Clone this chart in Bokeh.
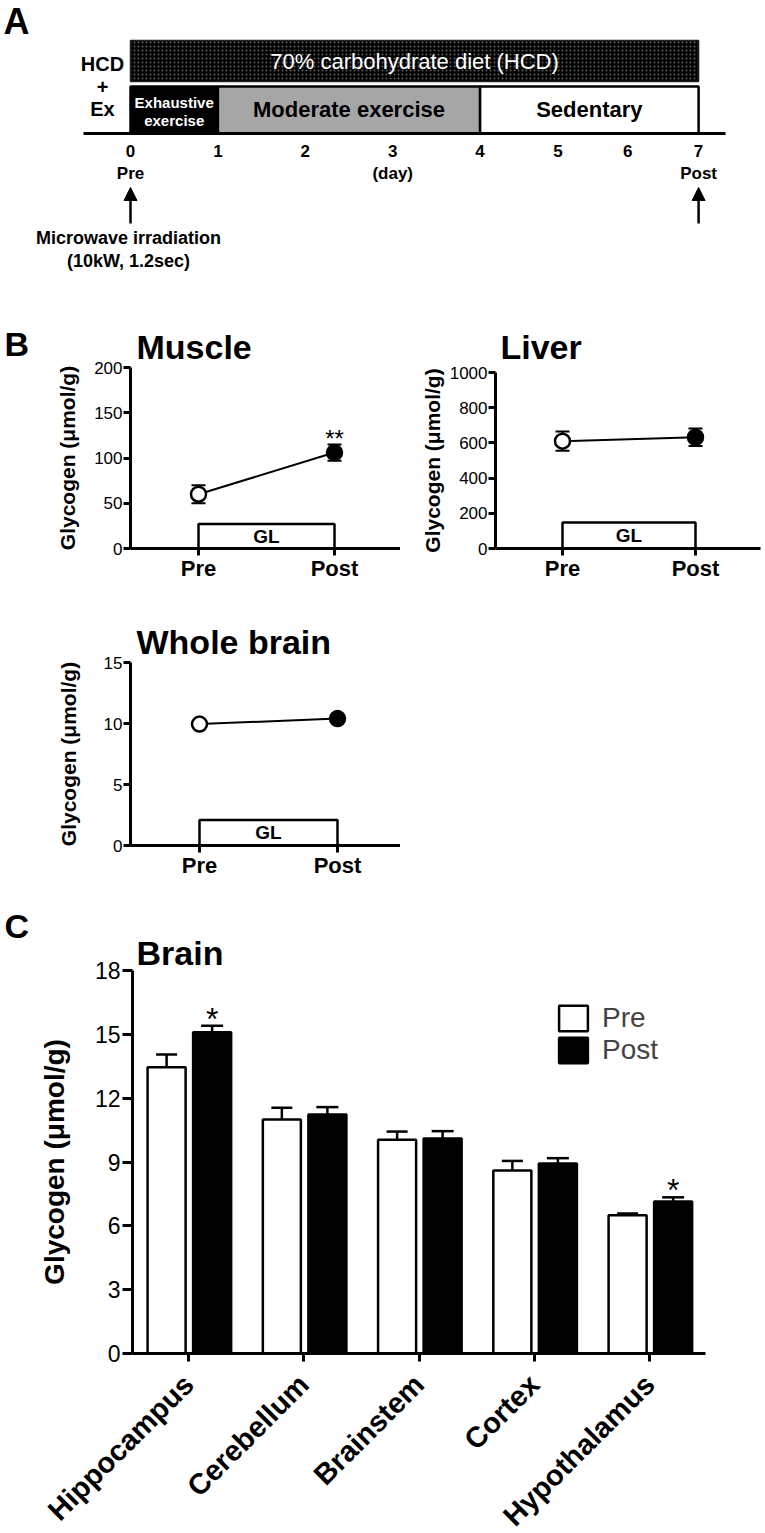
import math
from bokeh.plotting import figure
from bokeh.models import (Range1d, FixedTicker, Whisker, TeeHead, ColumnDataSource,
                          Legend, LegendItem, Arrow, NormalHead, Spacer)
from bokeh.layouts import column, row
from bokeh.embed import file_html
from bokeh.resources import INLINE
from bokeh.core.properties import value

FONT = "Liberation Sans"

# ------------------------------------------------------------------ data
# Panel A: protocol timeline
day_labels = ["0", "1", "2", "3", "4", "5", "6", "7"]
day_pos = [0, 1, 2, 3, 4, 4.89, 5.69, 6.5]          # drawn day positions (days 4-7 compressed)
phase_names = ["Exhaustive exercise", "Moderate exercise", "Sedentary"]
phase_start_day = [0, 1, 4]
phase_end_day = [1, 4, 7]
phase_colors = ["black", "#a6a6a6", "white"]
phase_text_colors = ["white", "black", "black"]
diet_label = "70% carbohydrate diet (HCD)"
diet_start_day, diet_end_day = 0, 7
sampling_days = [0, 7]
sampling_labels = ["Pre", "Post"]

# Panel B: tissue glycogen (µmol/g), mean and SEM at Pre / Post
timepoints = ["Pre", "Post"]
muscle_mean = [60, 106]
muscle_sem = [10, 9]
muscle_sig = ["", "**"]
liver_mean = [610, 632]
liver_sem = [55, 50]
liver_sig = ["", ""]
wb_mean = [9.95, 10.4]
wb_sem = [0.25, 0.25]
wb_sig = ["", ""]
gl_box_top = {"Muscle": 27, "Liver": 148, "Whole brain": 2.1}

# Panel C: regional brain glycogen (µmol/g)
regions = ["Hippocampus", "Cerebellum", "Brainstem", "Cortex", "Hypothalamus"]
brain_pre = [13.45, 11.0, 10.05, 8.6, 6.5]
brain_pre_sem = [0.6, 0.55, 0.38, 0.45, 0.08]
brain_post = [15.1, 11.23, 10.1, 8.93, 7.14]
brain_post_sem = [0.3, 0.35, 0.35, 0.25, 0.2]
brain_sig = ["*", "", "", "", "*"]


# ------------------------------------------------------------------ helpers
def make_panel(box, xa, ya, **kw):
    """box = (left, top, right, bottom) in page px; xa / ya = two (data, px) anchors."""
    fl, ft, fr, fb = box
    (dx0, px0), (dx1, px1) = xa
    kx = (px1 - px0) / (dx1 - dx0)
    (dy0, py0), (dy1, py1) = ya
    ky = (py0 - py1) / (dy1 - dy0)

    def X(px):
        return dx0 + (px - px0) / kx

    def Y(py):
        return dy0 + (py0 - py) / ky

    p = figure(width=fr - fl, height=fb - ft, x_range=Range1d(X(fl), X(fr)),
               y_range=Range1d(Y(fb), Y(ft)), output_backend="svg",
               toolbar_location=None, title=None, min_border=0, **kw)
    p.outline_line_color = None
    p.grid.visible = False
    return p, X, Y


def style_axis(ax, lw, tick_out, label_size, label_bold, label_standoff):
    ax.axis_line_width = lw
    ax.axis_line_color = "black"
    ax.major_tick_line_width = lw
    ax.major_tick_line_color = "black"
    ax.major_tick_in = 0
    ax.major_tick_out = tick_out
    ax.minor_tick_line_color = None
    ax.major_label_text_font = FONT
    ax.major_label_text_font_size = label_size
    ax.major_label_text_font_style = "bold" if label_bold else "normal"
    ax.major_label_text_color = "black"
    ax.major_label_standoff = label_standoff
    ax.axis_label_text_font = FONT
    ax.axis_label_text_font_style = "bold"
    ax.axis_label_text_color = "black"


def txt(p, x, y, s, size, bold=True, color="black", align="center", baseline="middle"):
    p.text(x=[x], y=[y], text=[s], text_font=value(FONT), text_font_size=size,
           text_font_style="bold" if bold else "normal", text_color=color,
           text_align=align, text_baseline=baseline)


# ------------------------------------------------------------------ panel A
pa, XA, YA = make_panel((0, 0, 765, 300), ((0, 130), (1, 217.4)), ((0, 300), (300, 0)),
                        x_axis_location=None, y_axis_location=None)

pa.quad(left=[day_pos[diet_start_day]], right=[day_pos[diet_end_day]],
        top=[YA(40)], bottom=[YA(81)], fill_color="black", line_color="#222222",
        line_width=1.5, hatch_pattern="dot", hatch_color="#5e5e5e", hatch_scale=4,
        hatch_weight=1)
txt(pa, (day_pos[diet_start_day] + day_pos[diet_end_day]) / 2, YA(61), diet_label,
    "22px", bold=False, color="white")

ph_left = [day_pos[s] for s in phase_start_day]
ph_right = [day_pos[e] for e in phase_end_day]
pa.quad(left=ph_left, right=ph_right, top=YA(86), bottom=YA(133),
        fill_color=phase_colors, line_color="black", line_width=2.5)
for i, name in enumerate(phase_names):
    cx = (ph_left[i] + ph_right[i]) / 2
    if ph_right[i] - ph_left[i] < 1.5:
        a, b = name.split(" ")
        txt(pa, cx, YA(102), a, "15px", color=phase_text_colors[i])
        txt(pa, cx, YA(120), b, "15px", color=phase_text_colors[i])
    else:
        txt(pa, cx, YA(109), name, "22px", color=phase_text_colors[i])

pa.segment(x0=[XA(83)], x1=[XA(725)], y0=[YA(133)], y1=[YA(133)], line_color="black", line_width=3)
pa.text(x=day_pos, y=[YA(150)] * len(day_pos), text=day_labels, text_font=value(FONT),
        text_font_size="17px", text_font_style="bold", text_align="center", text_baseline="middle")
for d, lab in zip(sampling_days, sampling_labels):
    txt(pa, day_pos[d], YA(173), lab, "17px")
    pa.add_layout(Arrow(end=NormalHead(size=13, fill_color="black", line_color="black", line_width=1),
                        x_start=day_pos[d], y_start=YA(223), x_end=day_pos[d], y_end=YA(187),
                        line_width=2.5, line_color="black"))
txt(pa, day_pos[3], YA(173), "(day)", "17px")
txt(pa, XA(102), YA(63), "HCD", "20px")
txt(pa, XA(102), YA(86), "+", "20px")
txt(pa, XA(102), YA(108), "Ex", "20px")
txt(pa, XA(128), YA(237), "Microwave irradiation", "18px")
txt(pa, XA(128), YA(260), "(10kW, 1.2sec)", "18px")
txt(pa, XA(3), YA(21), "A", "36px", align="left")


# ------------------------------------------------------------------ panel B
def tissue_panel(box, xa, ya, ymax, ystep, x_span, mean, sem, sig, title, title_xy,
                 ylab_standoff, letter_xy=None, letter=None):
    p, X, Y = make_panel(box, xa, ya)
    xs = list(range(len(timepoints)))
    xax, yax = p.xaxis[0], p.yaxis[0]
    xax.fixed_location = 0
    xax.bounds = (X(x_span[0]), X(x_span[1]))
    yax.fixed_location = X(x_span[0])
    yax.bounds = (0, ymax)
    xax.ticker = FixedTicker(ticks=xs)
    xax.major_label_overrides = {i: t for i, t in enumerate(timepoints)}
    yax.ticker = FixedTicker(ticks=list(range(0, ymax + 1, ystep)))
    yax.axis_label = "Glycogen (μmol/g)"
    style_axis(xax, 3, 7, "22px", True, 0)
    style_axis(yax, 3, 7, "17px", False, 1)
    yax.axis_label_text_font_size = "21px"
    yax.axis_label_standoff = ylab_standoff

    gl = gl_box_top[title]
    p.quad(left=[xs[0]], right=[xs[-1]], bottom=[0], top=[gl], fill_color="white",
           line_color="black", line_width=2.5)
    txt(p, (xs[0] + xs[-1]) / 2, gl / 2, "GL", "19px")

    p.line(xs, mean, line_color="black", line_width=2)
    src = ColumnDataSource(dict(x=xs, lo=[m - s for m, s in zip(mean, sem)],
                                hi=[m + s for m, s in zip(mean, sem)]))
    p.add_layout(Whisker(source=src, base="x", lower="lo", upper="hi", level="underlay",
                         line_width=2, line_color="black",
                         upper_head=TeeHead(size=14, line_width=2, line_color="black"),
                         lower_head=TeeHead(size=14, line_width=2, line_color="black")))
    p.scatter(xs, mean, marker="circle", size=15, fill_color=["white", "black"],
              line_color="black", line_width=2.5)
    p.text(x=xs, y=[m + s for m, s in zip(mean, sem)], text=sig, text_font=value(FONT),
           text_font_size="24px", text_align="center", text_baseline="middle", y_offset=-6)

    txt(p, X(title_xy[0]), Y(title_xy[1]), title, "34px", align="left")
    if letter:
        txt(p, X(letter_xy[0]), Y(letter_xy[1]), letter, "34px", align="left")
    return p


pm = tissue_panel((0, 300, 400, 600), ((0, 198), (1, 334)), ((0, 548), (200, 367)), 200, 50,
                  (130, 402), muscle_mean, muscle_sem, muscle_sig, "Muscle", (136, 346), 12,
                  letter_xy=(4, 343), letter="B")
pl = tissue_panel((400, 300, 765, 600), ((0, 562), (1, 695)), ((0, 548), (1000, 372)), 1000, 200,
                  (495, 760), liver_mean, liver_sem, liver_sig, "Liver", (500, 346), 3)
pw = tissue_panel((0, 600, 400, 885), ((0, 199), (1, 337)), ((0, 845), (15, 662)), 15, 5,
                  (130, 406), wb_mean, wb_sem, wb_sig, "Whole brain", (136, 641), 21)

# ------------------------------------------------------------------ panel C
pc, XC, YC = make_panel((0, 885, 765, 1533), ((0, 188), (1, 303.25)), ((0, 1353), (18, 970)))
xs = list(range(len(regions)))
pre_x = [i - 0.19 for i in xs]
post_x = [i + 0.205 for i in xs]
xax, yax = pc.xaxis[0], pc.yaxis[0]
xax.fixed_location = 0
xax.bounds = (XC(132), XC(705))
yax.fixed_location = XC(132)
yax.bounds = (0, 18)
xax.ticker = FixedTicker(ticks=xs)
xax.major_label_overrides = {i: r for i, r in enumerate(regions)}
xax.major_label_orientation = math.pi / 4
yax.ticker = FixedTicker(ticks=list(range(0, 19, 3)))
yax.axis_label = "Glycogen (μmol/g)"
style_axis(xax, 3, 8, "29px", True, 18)
style_axis(yax, 3, 10, "23px", False, 2)
yax.axis_label_text_font_size = "28px"
yax.axis_label_standoff = 22

for bx, mean, sem, head in ((pre_x, brain_pre, brain_pre_sem, 21), (post_x, brain_post, brain_post_sem, 22)):
    src = ColumnDataSource(dict(x=bx, lo=mean, hi=[m + s for m, s in zip(mean, sem)]))
    pc.add_layout(Whisker(source=src, base="x", lower="lo", upper="hi", level="underlay",
                          line_width=2.5, line_color="black",
                          upper_head=TeeHead(size=head, line_width=2.5, line_color="black"),
                          lower_head=None))
r_pre = pc.vbar(x=pre_x, top=brain_pre, width=0.33, bottom=0, fill_color="white",
                line_color="black", line_width=2.5)
r_post = pc.vbar(x=post_x, top=brain_post, width=0.33, bottom=0, fill_color="black",
                 line_color="black", line_width=2.5)
pc.text(x=post_x, y=[m + s for m, s in zip(brain_post, brain_post_sem)], text=brain_sig,
        text_font=value(FONT), text_font_size="32px", text_align="center",
        text_baseline="middle", y_offset=-7)

leg = Legend(items=[LegendItem(label="Pre", renderers=[r_pre]),
                    LegendItem(label="Post", renderers=[r_post])],
             location=(555, 467), orientation="vertical", border_line_color=None,
             background_fill_alpha=0, padding=0, margin=0, spacing=0,
             glyph_width=36, glyph_height=32, label_height=32, label_standoff=11,
             label_text_font=FONT, label_text_font_size="28px")
pc.add_layout(leg)
txt(pc, XC(136), YC(952), "Brain", "34px", align="left")
txt(pc, XC(4), YC(925), "C", "34px", align="left")

layout = column(pa, row(pm, pl), row(pw, Spacer(width=365, height=285)), pc)
open("out.html", "w").write(file_html(layout, INLINE))
